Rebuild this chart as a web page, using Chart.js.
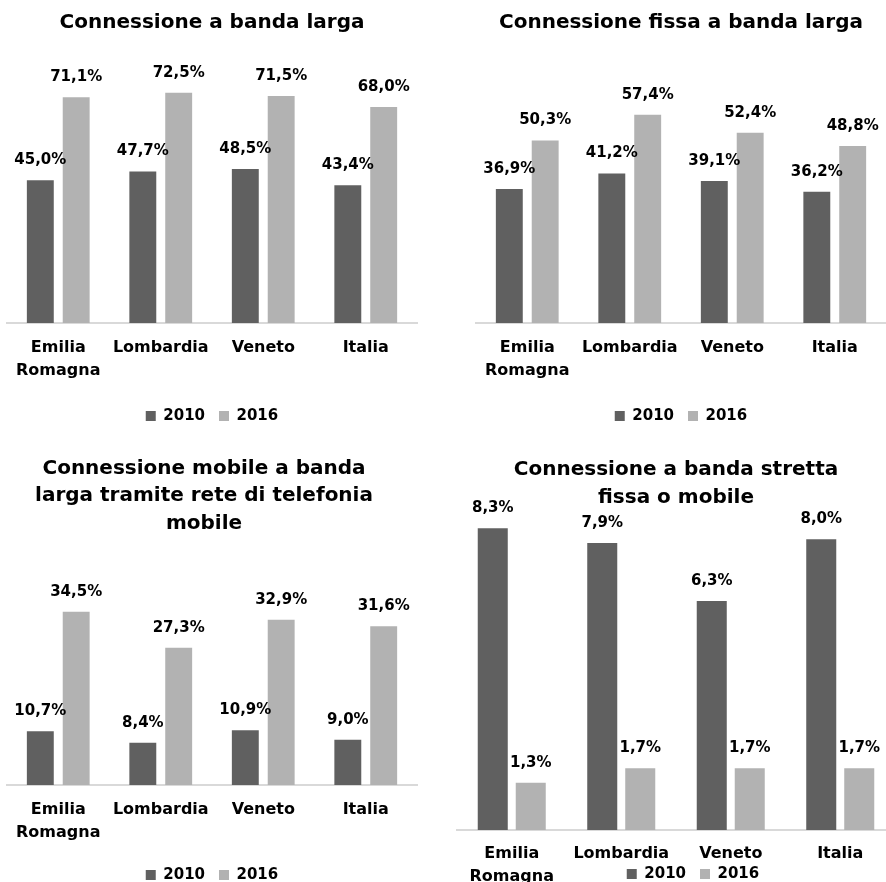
<!DOCTYPE html>
<html>
<head>
<meta charset="utf-8">
<script src="https://cdn.jsdelivr.net/npm/chart.js@4.4.1/dist/chart.umd.min.js"></script>
<style>
  html, body { margin: 0; padding: 0; background: #fff; overflow: hidden; }
  #page { position: relative; width: 886px; height: 882px; overflow: hidden; }
  #page canvas { position: absolute; }
</style>
</head>
<body>
<div id="page">
  <canvas id="c1"></canvas>
  <canvas id="c2"></canvas>
  <canvas id="c3"></canvas>
  <canvas id="c4"></canvas>
</div>
<script>
  var categories = [['Emilia', 'Romagna'], 'Lombardia', 'Veneto', 'Italia'];
  var seriesNames = ['2010', '2016'];

  var bandaLarga2010 = [45.0, 47.7, 48.5, 43.4];
  var bandaLarga2016 = [71.1, 72.5, 71.5, 68.0];

  var fissa2010 = [36.9, 41.2, 39.1, 36.2];
  var fissa2016 = [50.3, 57.4, 52.4, 48.8];

  var mobile2010 = [10.7, 8.4, 10.9, 9.0];
  var mobile2016 = [34.5, 27.3, 32.9, 31.6];

  var stretta2010 = [8.3, 7.9, 6.3, 8.0];
  var stretta2016 = [1.3, 1.7, 1.7, 1.7];

  var FONT = '"DejaVu Sans", Verdana, sans-serif';
  var DARK = '#606060';
  var LIGHT = '#b2b2b2';

  // percent labels above each bar, Italian decimal comma
  var valueLabels = {
    id: 'valueLabels',
    afterDatasetsDraw: function (chart) {
      var ctx = chart.ctx;
      ctx.save();
      ctx.font = 'bold 15px ' + FONT;
      ctx.fillStyle = '#000';
      ctx.textAlign = 'center';
      ctx.textBaseline = 'middle';
      chart.data.datasets.forEach(function (ds, i) {
        chart.getDatasetMeta(i).data.forEach(function (bar, j) {
          ctx.fillText(ds.data[j].toFixed(1).replace('.', ',') + '%', bar.x, bar.y - 20);
        });
      });
      ctx.restore();
    }
  };

  // nudges title / legend around, as in the original sheet
  var shiftBoxes = {
    id: 'shiftBoxes',
    afterLayout: function (chart, args, opts) {
      if (opts.title && chart.titleBlock) {
        chart.titleBlock.left += opts.title;
        chart.titleBlock.right += opts.title;
      }
      if (opts.legend && chart.legend) {
        chart.legend.left += opts.legend;
        chart.legend.right += opts.legend;
      }
      if (opts.legendY && chart.legend) {
        chart.legend.top += opts.legendY;
        chart.legend.bottom += opts.legendY;
      }
    }
  };

  function makeChart(id, box, title, data2010, data2016) {
    var canvas = document.getElementById(id);
    canvas.style.left = box.left + 'px';
    canvas.style.top = box.top + 'px';
    canvas.width = box.width;
    canvas.height = box.height;

    return new Chart(canvas, {
      type: 'bar',
      data: {
        labels: categories,
        datasets: [
          { label: seriesNames[0], data: data2010, backgroundColor: DARK },
          { label: seriesNames[1], data: data2016, backgroundColor: LIGHT }
        ]
      },
      options: {
        responsive: false,
        animation: false,
        events: [],
        layout: { padding: { left: box.padLeft, right: box.padRight, top: 0, bottom: box.padBottom } },
        datasets: {
          bar: { categoryPercentage: box.catPct, barPercentage: box.barPct }
        },
        scales: {
          x: {
            grid: { display: true, drawOnChartArea: false, drawTicks: false },
            border: { display: true, color: '#d9d9d9', width: 2 },
            ticks: {
              color: '#000',
              padding: box.tickPad,
              maxRotation: 0,
              autoSkip: false,
              font: { family: FONT, size: 16, weight: 'bold', lineHeight: 1.4 }
            },
            afterFit: function (scale) { scale.height = box.xHeight; }
          },
          y: { display: false, min: 0, max: box.yMax }
        },
        plugins: {
          title: {
            display: true,
            text: title,
            color: '#000',
            font: { family: FONT, size: 20, weight: 'bold', lineHeight: box.titleLine },
            padding: { top: box.titleTop, bottom: box.titleBottom }
          },
          legend: {
            position: 'bottom',
            labels: {
              color: '#000',
              boxWidth: 10,
              boxHeight: 10,
              padding: 14,
              font: { family: FONT, size: 15, weight: 'bold' }
            }
          },
          tooltip: { enabled: false },
          shiftBoxes: {
            title: box.shiftTitle || 0,
            legend: box.shiftLegend || 0,
            legendY: box.shiftLegendY || 0
          }
        }
      },
      plugins: [valueLabels, shiftBoxes]
    });
  }

  makeChart('c1', {
    left: 0, top: 0, width: 443, height: 441,
    padLeft: 7, padRight: 26, padBottom: 7.5,
    titleLine: 1.2, titleTop: 11, titleBottom: 34,
    xHeight: 71.5, tickPad: 14, yMax: 80, catPct: 0.7, barPct: 0.75
  }, 'Connessione a banda larga', bandaLarga2010, bandaLarga2016);

  makeChart('c2', {
    left: 443, top: 0, width: 443, height: 441,
    padLeft: 33, padRight: 0, padBottom: 7.5,
    titleLine: 1.2, titleTop: 11, titleBottom: 34,
    xHeight: 71.5, tickPad: 14, yMax: 70, catPct: 0.7, barPct: 0.75
  }, 'Connessione fissa a banda larga', fissa2010, fissa2016);

  makeChart('c3', {
    left: 0, top: 441, width: 443, height: 460,
    padLeft: 7, padRight: 26, padBottom: 8.5,
    titleLine: 1.375, titleTop: 14, titleBottom: 46.5,
    xHeight: 68.5, tickPad: 14, yMax: 40, catPct: 0.7, barPct: 0.75,
    shiftTitle: -8
  }, ['Connessione mobile a banda', 'larga tramite rete di telefonia', 'mobile'], mobile2010, mobile2016);

  makeChart('c4', {
    left: 443, top: 441, width: 452, height: 506,
    padLeft: 14, padRight: 0, padBottom: 6.5,
    titleLine: 1.4, titleTop: 15, titleBottom: 0,
    xHeight: 71.5, tickPad: 13, yMax: 8.75, catPct: 0.694, barPct: 0.79,
    shiftLegend: 17, shiftLegendY: -49
  }, ['Connessione a banda stretta', 'fissa o mobile'], stretta2010, stretta2016);
</script>
</body>
</html>
